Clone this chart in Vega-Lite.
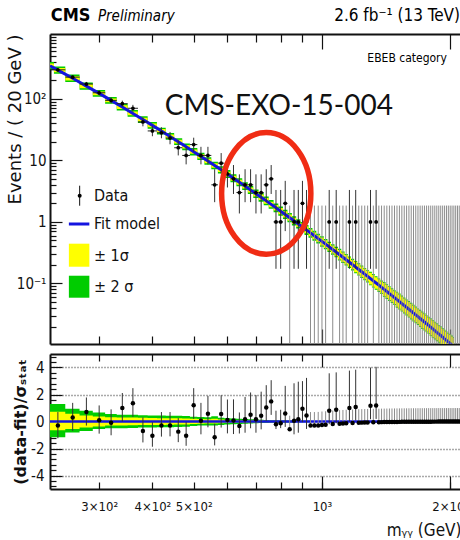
{
  "$schema": "https://vega.github.io/schema/vega-lite/v6.json",
  "padding": {"left": 5, "top": 6, "right": 0, "bottom": 0},
  "spacing": 8,
  "config": {
    "view": {"stroke": null},
    "font": "Liberation Sans Narrow, DejaVu Sans Condensed, Liberation Sans, sans-serif",
    "axis": {"zindex": 1, "grid": false, "domainColor": "#111", "domainWidth": 2, "tickColor": "#111", "tickWidth": 1.2, "labelColor": "#111", "titleColor": "#111", "labelFont": "Liberation Sans Narrow, DejaVu Sans Condensed, Liberation Sans, sans-serif", "titleFont": "Liberation Sans Narrow, DejaVu Sans Condensed, Liberation Sans, sans-serif", "labelFlush": false, "labelOverlap": false, "titleFontWeight": "normal"}
  },
  "datasets": {
    "one": [{}],
    "fit": [
      {"m":230,"f":343,"y1l":316.4,"y1h":371.8,"y2l":298.8,"y2h":393.8},
      {"m":240,"f":291.9,"y1l":269.3,"y1h":316.4,"y2l":254.3,"y2h":335.1},
      {"m":260,"f":214.6,"y1l":198,"y1h":232.6,"y2l":186.9,"y2h":246.4},
      {"m":280,"f":160.5,"y1l":148.1,"y1h":174,"y2l":139.8,"y2h":184.3},
      {"m":300,"f":122,"y1l":113.8,"y1h":130.8,"y2l":107.5,"y2h":138.5},
      {"m":320,"f":94,"y1l":87.7,"y1h":100.8,"y2l":82.8,"y2h":106.7},
      {"m":340,"f":73.2,"y1l":68.3,"y1h":78.5,"y2l":64.5,"y2h":83.1},
      {"m":360,"f":57.7,"y1l":53.8,"y1h":61.9,"y2l":50.8,"y2h":65.5},
      {"m":380,"f":45.9,"y1l":42.8,"y1h":49.2,"y2l":40.4,"y2h":52.1},
      {"m":400,"f":36.9,"y1l":34.4,"y1h":39.6,"y2l":32.5,"y2h":41.9},
      {"m":420,"f":29.9,"y1l":27.9,"y1h":32.1,"y2l":26.3,"y2h":33.9},
      {"m":440,"f":24.4,"y1l":22.8,"y1h":26.2,"y2l":21.5,"y2h":27.7},
      {"m":460,"f":20.05,"y1l":18.7,"y1h":21.5,"y2l":17.7,"y2h":22.8},
      {"m":480,"f":16.6,"y1l":15.5,"y1h":17.8,"y2l":14.6,"y2h":18.8},
      {"m":500,"f":13.8,"y1l":12.73,"y1h":14.96,"y2l":12.02,"y2h":15.84},
      {"m":520,"f":11.57,"y1l":10.67,"y1h":12.54,"y2l":10.08,"y2h":13.28},
      {"m":540,"f":9.74,"y1l":8.99,"y1h":10.56,"y2l":8.48,"y2h":11.18},
      {"m":560,"f":8.24,"y1l":7.6,"y1h":8.93,"y2l":7.18,"y2h":9.46},
      {"m":580,"f":7,"y1l":6.46,"y1h":7.59,"y2l":6.1,"y2h":8.04},
      {"m":600,"f":5.98,"y1l":5.46,"y1h":6.55,"y2l":5.15,"y2h":6.94},
      {"m":620,"f":5.12,"y1l":4.67,"y1h":5.61,"y2l":4.41,"y2h":5.94},
      {"m":640,"f":4.41,"y1l":4.02,"y1h":4.83,"y2l":3.8,"y2h":5.12},
      {"m":660,"f":3.81,"y1l":3.48,"y1h":4.18,"y2l":3.28,"y2h":4.42},
      {"m":680,"f":3.3,"y1l":3.01,"y1h":3.62,"y2l":2.84,"y2h":3.83},
      {"m":700,"f":2.87,"y1l":2.588,"y1h":3.183,"y2l":2.443,"y2h":3.372},
      {"m":720,"f":2.505,"y1l":2.259,"y1h":2.778,"y2l":2.132,"y2h":2.943},
      {"m":740,"f":2.193,"y1l":1.977,"y1h":2.432,"y2l":1.866,"y2h":2.577},
      {"m":760,"f":1.923,"y1l":1.734,"y1h":2.133,"y2l":1.637,"y2h":2.26},
      {"m":780,"f":1.692,"y1l":1.526,"y1h":1.876,"y2l":1.44,"y2h":1.988},
      {"m":800,"f":1.493,"y1l":1.331,"y1h":1.675,"y2l":1.256,"y2h":1.775},
      {"m":820,"f":1.321,"y1l":1.177,"y1h":1.482,"y2l":1.111,"y2h":1.571},
      {"m":840,"f":1.17,"y1l":1.043,"y1h":1.313,"y2l":0.984,"y2h":1.391},
      {"m":860,"f":1.04,"y1l":0.927,"y1h":1.167,"y2l":0.875,"y2h":1.237},
      {"m":880,"f":0.926,"y1l":0.825,"y1h":1.039,"y2l":0.779,"y2h":1.101},
      {"m":900,"f":0.827,"y1l":0.729,"y1h":0.939,"y2l":0.688,"y2h":0.994},
      {"m":920,"f":0.739,"y1l":0.651,"y1h":0.839,"y2l":0.615,"y2h":0.888},
      {"m":940,"f":0.663,"y1l":0.584,"y1h":0.753,"y2l":0.552,"y2h":0.797},
      {"m":960,"f":0.595,"y1l":0.524,"y1h":0.675,"y2l":0.495,"y2h":0.715},
      {"m":980,"f":0.535,"y1l":0.471,"y1h":0.607,"y2l":0.445,"y2h":0.643},
      {"m":1000,"f":0.482,"y1l":0.415,"y1h":0.56,"y2l":0.396,"y2h":0.586},
      {"m":1020,"f":0.435,"y1l":0.375,"y1h":0.505,"y2l":0.358,"y2h":0.529},
      {"m":1040,"f":0.393,"y1l":0.339,"y1h":0.456,"y2l":0.323,"y2h":0.478},
      {"m":1060,"f":0.356,"y1l":0.307,"y1h":0.413,"y2l":0.293,"y2h":0.433},
      {"m":1080,"f":0.323,"y1l":0.278,"y1h":0.375,"y2l":0.266,"y2h":0.393},
      {"m":1100,"f":0.293,"y1l":0.246,"y1h":0.348,"y2l":0.235,"y2h":0.365},
      {"m":1120,"f":0.2666,"y1l":0.224,"y1h":0.317,"y2l":0.214,"y2h":0.332},
      {"m":1140,"f":0.2427,"y1l":0.204,"y1h":0.289,"y2l":0.195,"y2h":0.302},
      {"m":1160,"f":0.2212,"y1l":0.186,"y1h":0.263,"y2l":0.178,"y2h":0.275},
      {"m":1180,"f":0.2019,"y1l":0.17,"y1h":0.24,"y2l":0.162,"y2h":0.251},
      {"m":1200,"f":0.1846,"y1l":0.1518,"y1h":0.2245,"y2l":0.1466,"y2h":0.2324},
      {"m":1220,"f":0.1689,"y1l":0.1389,"y1h":0.2054,"y2l":0.1342,"y2h":0.2126},
      {"m":1240,"f":0.1549,"y1l":0.1274,"y1h":0.1884,"y2l":0.123,"y2h":0.195},
      {"m":1260,"f":0.142,"y1l":0.1168,"y1h":0.1727,"y2l":0.1128,"y2h":0.1788},
      {"m":1280,"f":0.1305,"y1l":0.1073,"y1h":0.1587,"y2l":0.1037,"y2h":0.1643},
      {"m":1300,"f":0.1201,"y1l":0.0965,"y1h":0.1495,"y2l":0.0932,"y2h":0.1547},
      {"m":1320,"f":0.1104,"y1l":0.0887,"y1h":0.1374,"y2l":0.0857,"y2h":0.1422},
      {"m":1340,"f":0.1017,"y1l":0.0817,"y1h":0.1266,"y2l":0.079,"y2h":0.131},
      {"m":1360,"f":0.0938,"y1l":0.0753,"y1h":0.1168,"y2l":0.0728,"y2h":0.1208},
      {"m":1380,"f":0.0866,"y1l":0.0696,"y1h":0.1078,"y2l":0.0672,"y2h":0.1115},
      {"m":1400,"f":0.08,"y1l":0.0628,"y1h":0.1019,"y2l":0.0607,"y2h":0.1054},
      {"m":1420,"f":0.074,"y1l":0.0581,"y1h":0.0943,"y2l":0.0561,"y2h":0.0975},
      {"m":1440,"f":0.0685,"y1l":0.0538,"y1h":0.0873,"y2l":0.052,"y2h":0.0903},
      {"m":1460,"f":0.0634,"y1l":0.0498,"y1h":0.0808,"y2l":0.0481,"y2h":0.0836},
      {"m":1480,"f":0.0588,"y1l":0.0462,"y1h":0.0749,"y2l":0.0446,"y2h":0.0775},
      {"m":1500,"f":0.0546,"y1l":0.0419,"y1h":0.0711,"y2l":0.0405,"y2h":0.0737},
      {"m":1520,"f":0.0508,"y1l":0.039,"y1h":0.0662,"y2l":0.0377,"y2h":0.0685},
      {"m":1540,"f":0.0472,"y1l":0.0362,"y1h":0.0615,"y2l":0.035,"y2h":0.0637},
      {"m":1560,"f":0.0439,"y1l":0.0337,"y1h":0.0572,"y2l":0.0325,"y2h":0.0592},
      {"m":1580,"f":0.0408,"y1l":0.0313,"y1h":0.0532,"y2l":0.0302,"y2h":0.055},
      {"m":1600,"f":0.0381,"y1l":0.0289,"y1h":0.0502,"y2l":0.0279,"y2h":0.052},
      {"m":1620,"f":0.0355,"y1l":0.0269,"y1h":0.0468,"y2l":0.026,"y2h":0.0485},
      {"m":1640,"f":0.0331,"y1l":0.0251,"y1h":0.0436,"y2l":0.0242,"y2h":0.0452},
      {"m":1660,"f":0.0309,"y1l":0.0234,"y1h":0.0407,"y2l":0.0226,"y2h":0.0422},
      {"m":1680,"f":0.0289,"y1l":0.0219,"y1h":0.0381,"y2l":0.0212,"y2h":0.0394},
      {"m":1700,"f":0.027,"y1l":0.0202,"y1h":0.036,"y2l":0.0196,"y2h":0.0373},
      {"m":1720,"f":0.0253,"y1l":0.019,"y1h":0.0338,"y2l":0.0183,"y2h":0.0349},
      {"m":1740,"f":0.0237,"y1l":0.0178,"y1h":0.0316,"y2l":0.0172,"y2h":0.0327},
      {"m":1760,"f":0.0222,"y1l":0.0166,"y1h":0.0296,"y2l":0.0161,"y2h":0.0306},
      {"m":1780,"f":0.0208,"y1l":0.0156,"y1h":0.0277,"y2l":0.0151,"y2h":0.0287},
      {"m":1800,"f":0.0195,"y1l":0.01446,"y1h":0.0263,"y2l":0.01397,"y2h":0.0272},
      {"m":1820,"f":0.0183,"y1l":0.01357,"y1h":0.0247,"y2l":0.01311,"y2h":0.0255},
      {"m":1840,"f":0.0172,"y1l":0.01275,"y1h":0.0232,"y2l":0.01232,"y2h":0.024},
      {"m":1860,"f":0.0161,"y1l":0.01193,"y1h":0.0217,"y2l":0.01153,"y2h":0.0225},
      {"m":1880,"f":0.0152,"y1l":0.01127,"y1h":0.0205,"y2l":0.01089,"y2h":0.0212},
      {"m":1900,"f":0.0143,"y1l":0.01048,"y1h":0.01952,"y2l":0.01012,"y2h":0.0202},
      {"m":1920,"f":0.0134,"y1l":0.00982,"y1h":0.01829,"y2l":0.00948,"y2h":0.01893},
      {"m":1940,"f":0.0126,"y1l":0.00923,"y1h":0.0172,"y2l":0.00892,"y2h":0.0178},
      {"m":1960,"f":0.0119,"y1l":0.00872,"y1h":0.01624,"y2l":0.00842,"y2h":0.01681},
      {"m":1980,"f":0.0112,"y1l":0.00821,"y1h":0.01529,"y2l":0.00793,"y2h":0.01583},
      {"m":2000,"f":0.0106,"y1l":0.00768,"y1h":0.01463,"y2l":0.00742,"y2h":0.01515},
      {"m":2020,"f":0.00998,"y1l":0.00723,"y1h":0.01377,"y2l":0.00698,"y2h":0.01426},
      {"m":2040,"f":0.00943,"y1l":0.00683,"y1h":0.01301,"y2l":0.0066,"y2h":0.01348}
    ],
    "rb": [
      {"m":230,"yl":-0.65,"yh":0.72,"gl":-1.17,"gh":1.29},
      {"m":240,"yl":-0.65,"yh":0.72,"gl":-1.17,"gh":1.29},
      {"m":260,"yl":-0.55,"yh":0.57,"gl":-0.82,"gh":0.95},
      {"m":280,"yl":-0.45,"yh":0.45,"gl":-0.7,"gh":0.8},
      {"m":300,"yl":-0.37,"yh":0.37,"gl":-0.55,"gh":0.67},
      {"m":320,"yl":-0.3,"yh":0.32,"gl":-0.5,"gh":0.55},
      {"m":340,"yl":-0.3,"yh":0.3,"gl":-0.5,"gh":0.5},
      {"m":360,"yl":-0.28,"yh":0.3,"gl":-0.48,"gh":0.5},
      {"m":380,"yl":-0.26,"yh":0.28,"gl":-0.45,"gh":0.47},
      {"m":400,"yl":-0.25,"yh":0.26,"gl":-0.45,"gh":0.45},
      {"m":420,"yl":-0.25,"yh":0.25,"gl":-0.43,"gh":0.45},
      {"m":440,"yl":-0.24,"yh":0.25,"gl":-0.42,"gh":0.43},
      {"m":460,"yl":-0.23,"yh":0.24,"gl":-0.4,"gh":0.42},
      {"m":480,"yl":-0.22,"yh":0.22,"gl":-0.38,"gh":0.4},
      {"m":500,"yl":-0.18,"yh":0.2,"gl":-0.33,"gh":0.36},
      {"m":520,"yl":-0.16,"yh":0.18,"gl":-0.3,"gh":0.33},
      {"m":540,"yl":-0.15,"yh":0.17,"gl":-0.3,"gh":0.32},
      {"m":560,"yl":-0.15,"yh":0.2,"gl":-0.3,"gh":0.38},
      {"m":580,"yl":-0.13,"yh":0.15,"gl":-0.25,"gh":0.28},
      {"m":600,"yl":-0.12,"yh":0.13,"gl":-0.22,"gh":0.24},
      {"m":620,"yl":-0.11,"yh":0.12,"gl":-0.2,"gh":0.22},
      {"m":640,"yl":-0.1,"yh":0.11,"gl":-0.18,"gh":0.2},
      {"m":660,"yl":-0.09,"yh":0.1,"gl":-0.16,"gh":0.18},
      {"m":680,"yl":-0.08,"yh":0.09,"gl":-0.15,"gh":0.16},
      {"m":700,"yl":-0.07,"yh":0.08,"gl":-0.13,"gh":0.14},
      {"m":720,"yl":-0.06,"yh":0.07,"gl":-0.12,"gh":0.13},
      {"m":740,"yl":-0.06,"yh":0.06,"gl":-0.11,"gh":0.12},
      {"m":760,"yl":-0.05,"yh":0.05,"gl":-0.1,"gh":0.1},
      {"m":780,"yl":-0.05,"yh":0.05,"gl":-0.09,"gh":0.09},
      {"m":800,"yl":-0.04,"yh":0.04,"gl":-0.08,"gh":0.08},
      {"m":840,"yl":-0.035,"yh":0.035,"gl":-0.07,"gh":0.07},
      {"m":880,"yl":-0.03,"yh":0.03,"gl":-0.06,"gh":0.06},
      {"m":920,"yl":-0.025,"yh":0.025,"gl":-0.05,"gh":0.05},
      {"m":960,"yl":-0.02,"yh":0.02,"gl":-0.04,"gh":0.04},
      {"m":1000,"yl":-0.02,"yh":0.02,"gl":-0.04,"gh":0.04}
    ],
    "bins": [
      {"m":240,"a":230,"b":250,"n":295,"lo":277.9,"hi":313.3,"r":-0.3,"rl":-1.24,"rh":0.7},
      {"m":260,"a":250,"b":270,"n":224,"lo":209.1,"hi":240.1,"r":0.3,"rl":-0.7,"rh":1.38},
      {"m":280,"a":270,"b":290,"n":173,"lo":159.9,"hi":187.3,"r":0.7,"rl":-0.3,"rh":1.78},
      {"m":300,"a":290,"b":310,"n":125,"lo":113.9,"hi":137.3,"r":0.1,"rl":-0.9,"rh":1.19},
      {"m":320,"a":310,"b":330,"n":94,"lo":84.3,"hi":104.8,"r":-0.1,"rl":-1.02,"rh":0.9},
      {"m":340,"a":330,"b":350,"n":83,"lo":73.9,"hi":93.2,"r":1.0,"rl":0.0,"rh":2.11},
      {"m":360,"a":350,"b":370,"n":70,"lo":61.7,"hi":79.5,"r":1.35,"rl":0.35,"rh":2.47},
      {"m":380,"a":370,"b":390,"n":42,"lo":35.6,"hi":49.6,"r":-0.7,"rl":-1.55,"rh":0.3},
      {"m":400,"a":390,"b":410,"n":30,"lo":24.6,"hi":36.6,"r":-1.05,"rl":-1.87,"rh":-0.05},
      {"m":420,"a":410,"b":430,"n":28,"lo":22.8,"hi":34.4,"r":-0.3,"rl":-1.12,"rh":0.7},
      {"m":440,"a":430,"b":450,"n":23,"lo":18.2,"hi":28.9,"r":-0.3,"rl":-1.1,"rh":0.7},
      {"m":460,"a":450,"b":470,"n":16,"lo":12.0,"hi":21.1,"r":-0.75,"rl":-1.53,"rh":0.25},
      {"m":480,"a":470,"b":490,"n":12,"lo":8.59,"hi":16.56,"r":-1.05,"rl":-1.8,"rh":-0.05},
      {"m":500,"a":490,"b":510,"n":18,"lo":13.8,"hi":23.3,"r":1.2,"rl":0.2,"rh":2.47},
      {"m":520,"a":510,"b":530,"n":12,"lo":8.59,"hi":16.56,"r":0.05,"rl":-0.95,"rh":1.38},
      {"m":540,"a":530,"b":550,"n":12,"lo":8.59,"hi":16.56,"r":0.57,"rl":-0.43,"rh":1.9},
      {"m":560,"a":550,"b":570,"n":4,"lo":2.09,"hi":7.16,"r":-1.17,"rl":-1.77,"rh":-0.17},
      {"m":580,"a":570,"b":590,"n":9,"lo":6.06,"hi":13.11,"r":0.55,"rl":-0.45,"rh":1.95},
      {"m":600,"a":590,"b":610,"n":6,"lo":3.62,"hi":9.58,"r":0.12,"rl":-0.88,"rh":1.63},
      {"m":620,"a":610,"b":630,"n":5,"lo":2.84,"hi":8.38,"r":0.07,"rl":-0.93,"rh":1.64},
      {"m":640,"a":630,"b":650,"n":3,"lo":1.37,"hi":5.92,"r":-0.33,"rl":-0.89,"rh":0.67},
      {"m":660,"a":650,"b":670,"n":4,"lo":2.09,"hi":7.16,"r":0.17,"rl":-0.83,"rh":1.82},
      {"m":680,"a":670,"b":690,"n":4,"lo":2.09,"hi":7.16,"r":0.5,"rl":-0.5,"rh":2.15},
      {"m":700,"a":690,"b":710,"n":3,"lo":1.37,"hi":5.92,"r":0.17,"rl":-0.83,"rh":1.96},
      {"m":720,"a":710,"b":730,"n":3,"lo":1.37,"hi":5.92,"r":0.42,"rl":-0.58,"rh":2.21},
      {"m":740,"a":730,"b":750,"n":4,"lo":2.09,"hi":7.16,"r":1.04,"rl":0.04,"rh":2.69},
      {"m":760,"a":750,"b":770,"n":5,"lo":2.84,"hi":8.38,"r":1.49,"rl":0.49,"rh":3.06},
      {"m":780,"a":770,"b":790,"n":1,"lo":0.173,"hi":3.3,"r":-0.2,"rl":-0.56,"rh":0.8},
      {"m":800,"a":790,"b":810,"n":1,"lo":0.173,"hi":3.3,"r":-0.13,"rl":-0.49,"rh":0.87},
      {"m":820,"a":810,"b":830,"n":2,"lo":0.708,"hi":4.64,"r":0.6,"rl":-0.4,"rh":2.64},
      {"m":840,"a":830,"b":850,"n":0,"lo":0.001,"hi":1.841,"r":-0.57,"rl":-0.57,"rh":0.43},
      {"m":860,"a":850,"b":870,"n":1,"lo":0.173,"hi":3.3,"r":0.05,"rl":-0.95,"rh":2.83},
      {"m":880,"a":870,"b":890,"n":1,"lo":0.173,"hi":3.3,"r":0.17,"rl":-0.83,"rh":2.95},
      {"m":900,"a":890,"b":910,"n":2,"lo":0.708,"hi":4.64,"r":0.95,"rl":-0.05,"rh":2.99},
      {"m":920,"a":910,"b":930,"n":1,"lo":0.173,"hi":3.3,"r":0.45,"rl":-0.55,"rh":3.23},
      {"m":940,"a":930,"b":950,"n":0,"lo":0.001,"hi":1.841,"r":-0.3,"rl":-0.3,"rh":0.7},
      {"m":960,"a":950,"b":970,"n":0,"lo":0.001,"hi":1.841,"r":-0.3,"rl":-0.3,"rh":0.7},
      {"m":980,"a":970,"b":990,"n":0,"lo":0.001,"hi":1.841,"r":-0.29,"rl":-0.29,"rh":0.71},
      {"m":1000,"a":990,"b":1010,"n":0,"lo":0.001,"hi":1.841,"r":-0.26,"rl":-0.26,"rh":0.74},
      {"m":1020,"a":1010,"b":1030,"n":0,"lo":0.001,"hi":1.841,"r":-0.24,"rl":-0.24,"rh":0.76},
      {"m":1040,"a":1030,"b":1050,"n":1,"lo":0.173,"hi":3.3,"r":0.8,"rl":-0.2,"rh":3.57},
      {"m":1060,"a":1050,"b":1070,"n":0,"lo":0.001,"hi":1.841,"r":-0.19,"rl":-0.19,"rh":0.81},
      {"m":1080,"a":1070,"b":1090,"n":1,"lo":0.173,"hi":3.3,"r":0.87,"rl":-0.13,"rh":3.64},
      {"m":1100,"a":1090,"b":1110,"n":0,"lo":0.001,"hi":1.841,"r":-0.16,"rl":-0.16,"rh":0.84},
      {"m":1120,"a":1110,"b":1130,"n":0,"lo":0.001,"hi":1.841,"r":-0.145,"rl":-0.145,"rh":0.855},
      {"m":1140,"a":1130,"b":1150,"n":0,"lo":0.001,"hi":1.841,"r":-0.13,"rl":-0.13,"rh":0.87},
      {"m":1160,"a":1150,"b":1170,"n":1,"lo":0.173,"hi":3.3,"r":1.0,"rl":0.0,"rh":3.77},
      {"m":1180,"a":1170,"b":1190,"n":0,"lo":0.001,"hi":1.841,"r":-0.11,"rl":-0.11,"rh":0.89},
      {"m":1200,"a":1190,"b":1210,"n":1,"lo":0.173,"hi":3.3,"r":1.07,"rl":0.07,"rh":3.84},
      {"m":1220,"a":1210,"b":1230,"n":0,"lo":0.001,"hi":1.841,"r":-0.09,"rl":-0.09,"rh":0.91},
      {"m":1240,"a":1230,"b":1250,"n":0,"lo":0.001,"hi":1.841,"r":-0.084,"rl":-0.084,"rh":0.916},
      {"m":1260,"a":1250,"b":1270,"n":0,"lo":0.001,"hi":1.841,"r":-0.077,"rl":-0.077,"rh":0.923},
      {"m":1280,"a":1270,"b":1290,"n":0,"lo":0.001,"hi":1.841,"r":-0.071,"rl":-0.071,"rh":0.929},
      {"m":1300,"a":1290,"b":1310,"n":1,"lo":0.173,"hi":3.3,"r":1.17,"rl":0.17,"rh":4.0},
      {"m":1320,"a":1310,"b":1330,"n":0,"lo":0.001,"hi":1.841,"r":-0.06,"rl":-0.06,"rh":0.94},
      {"m":1340,"a":1330,"b":1350,"n":1,"lo":0.173,"hi":3.3,"r":1.19,"rl":0.19,"rh":4.05},
      {"m":1360,"a":1350,"b":1370,"n":0,"lo":0.001,"hi":1.841,"r":-0.051,"rl":-0.051,"rh":0.949},
      {"m":1380,"a":1370,"b":1390,"n":0,"lo":0.001,"hi":1.841,"r":-0.047,"rl":-0.047,"rh":0.953},
      {"m":1400,"a":1390,"b":1410,"n":0,"lo":0.001,"hi":1.841,"r":-0.043,"rl":-0.043,"rh":0.957},
      {"m":1420,"a":1410,"b":1430,"n":0,"lo":0.001,"hi":1.841,"r":-0.04,"rl":-0.04,"rh":0.96},
      {"m":1440,"a":1430,"b":1450,"n":0,"lo":0.001,"hi":1.841,"r":-0.037,"rl":-0.037,"rh":0.963},
      {"m":1460,"a":1450,"b":1470,"n":0,"lo":0.001,"hi":1.841,"r":-0.034,"rl":-0.034,"rh":0.966},
      {"m":1480,"a":1470,"b":1490,"n":0,"lo":0.001,"hi":1.841,"r":-0.032,"rl":-0.032,"rh":0.968},
      {"m":1500,"a":1490,"b":1510,"n":0,"lo":0.001,"hi":1.841,"r":-0.03,"rl":-0.03,"rh":0.97},
      {"m":1520,"a":1510,"b":1530,"n":0,"lo":0.001,"hi":1.841,"r":-0.028,"rl":-0.028,"rh":0.972},
      {"m":1540,"a":1530,"b":1550,"n":0,"lo":0.001,"hi":1.841,"r":-0.026,"rl":-0.026,"rh":0.974},
      {"m":1560,"a":1550,"b":1570,"n":0,"lo":0.001,"hi":1.841,"r":-0.024,"rl":-0.024,"rh":0.976},
      {"m":1580,"a":1570,"b":1590,"n":0,"lo":0.001,"hi":1.841,"r":-0.022,"rl":-0.022,"rh":0.978},
      {"m":1600,"a":1590,"b":1610,"n":0,"lo":0.001,"hi":1.841,"r":-0.021,"rl":-0.021,"rh":0.979},
      {"m":1620,"a":1610,"b":1630,"n":0,"lo":0.001,"hi":1.841,"r":-0.019,"rl":-0.019,"rh":0.981},
      {"m":1640,"a":1630,"b":1650,"n":0,"lo":0.001,"hi":1.841,"r":-0.018,"rl":-0.018,"rh":0.982},
      {"m":1660,"a":1650,"b":1670,"n":0,"lo":0.001,"hi":1.841,"r":-0.017,"rl":-0.017,"rh":0.983},
      {"m":1680,"a":1670,"b":1690,"n":0,"lo":0.001,"hi":1.841,"r":-0.016,"rl":-0.016,"rh":0.984},
      {"m":1700,"a":1690,"b":1710,"n":0,"lo":0.001,"hi":1.841,"r":-0.015,"rl":-0.015,"rh":0.985},
      {"m":1720,"a":1710,"b":1730,"n":0,"lo":0.001,"hi":1.841,"r":-0.014,"rl":-0.014,"rh":0.986},
      {"m":1740,"a":1730,"b":1750,"n":0,"lo":0.001,"hi":1.841,"r":-0.013,"rl":-0.013,"rh":0.987},
      {"m":1760,"a":1750,"b":1770,"n":0,"lo":0.001,"hi":1.841,"r":-0.012,"rl":-0.012,"rh":0.988},
      {"m":1780,"a":1770,"b":1790,"n":0,"lo":0.001,"hi":1.841,"r":-0.011,"rl":-0.011,"rh":0.989},
      {"m":1800,"a":1790,"b":1810,"n":0,"lo":0.001,"hi":1.841,"r":-0.011,"rl":-0.011,"rh":0.989},
      {"m":1820,"a":1810,"b":1830,"n":0,"lo":0.001,"hi":1.841,"r":-0.01,"rl":-0.01,"rh":0.99},
      {"m":1840,"a":1830,"b":1850,"n":0,"lo":0.001,"hi":1.841,"r":-0.009,"rl":-0.009,"rh":0.991},
      {"m":1860,"a":1850,"b":1870,"n":0,"lo":0.001,"hi":1.841,"r":-0.009,"rl":-0.009,"rh":0.991},
      {"m":1880,"a":1870,"b":1890,"n":0,"lo":0.001,"hi":1.841,"r":-0.008,"rl":-0.008,"rh":0.992},
      {"m":1900,"a":1890,"b":1910,"n":0,"lo":0.001,"hi":1.841,"r":-0.008,"rl":-0.008,"rh":0.992},
      {"m":1920,"a":1910,"b":1930,"n":0,"lo":0.001,"hi":1.841,"r":-0.007,"rl":-0.007,"rh":0.993},
      {"m":1940,"a":1930,"b":1950,"n":0,"lo":0.001,"hi":1.841,"r":-0.007,"rl":-0.007,"rh":0.993},
      {"m":1960,"a":1950,"b":1970,"n":0,"lo":0.001,"hi":1.841,"r":-0.006,"rl":-0.006,"rh":0.994},
      {"m":1980,"a":1970,"b":1990,"n":0,"lo":0.001,"hi":1.841,"r":-0.006,"rl":-0.006,"rh":0.994},
      {"m":2000,"a":1990,"b":2010,"n":0,"lo":0.001,"hi":1.841,"r":-0.006,"rl":-0.006,"rh":0.994},
      {"m":2020,"a":2010,"b":2030,"n":0,"lo":0.001,"hi":1.841,"r":-0.005,"rl":-0.005,"rh":0.995},
      {"m":2040,"a":2030,"b":2050,"n":0,"lo":0.001,"hi":1.841,"r":-0.005,"rl":-0.005,"rh":0.995},
      {"m":2060,"a":2050,"b":2070,"n":0,"lo":0.001,"hi":1.841,"r":-0.005,"rl":-0.005,"rh":0.995},
      {"m":2080,"a":2070,"b":2090,"n":0,"lo":0.001,"hi":1.841,"r":-0.005,"rl":-0.005,"rh":0.995},
      {"m":2100,"a":2090,"b":2110,"n":0,"lo":0.001,"hi":1.841,"r":-0.004,"rl":-0.004,"rh":0.996}
    ]
  },
  "vconcat": [
    {
      "width": 411,
      "height": 310,
      "resolve": {"axis": {"x": "independent", "y": "independent"}},
      "layer": [
        {
          "data": {"name": "fit"},
          "mark": {"type": "area", "interpolate": "step", "color": "#00cc00", "clip": true},
          "encoding": {
            "x": {"field": "m", "type": "quantitative", "scale": {"type": "log", "domain": [230, 2120], "nice": false},
                  "axis": {"orient": "bottom", "values": [300,400,500,600,700,800,900], "tickSize": -8, "labels": false, "domain": true, "title": null}},
            "y": {"field": "y2l", "type": "quantitative", "scale": {"type": "log", "domain": [0.0104, 1125], "nice": false},
                  "axis": {"orient": "left", "values": [0.1,1,10,100], "tickSize": -12, "labelPadding": 16, "labelFontSize": 15,
                           "labelExpr": "datum.value==100?'10²':datum.value==10?'10':datum.value==1?'1':'10⁻¹'",
                           "title": "Events / ( 20 GeV )", "titleAnchor": "end", "titleFont": "DejaVu Sans", "titleFontSize": 18, "titleX": -26}},
            "y2": {"field": "y2h"}
          }
        },
        {
          "data": {"name": "fit"},
          "mark": {"type": "area", "interpolate": "step", "color": "#ffff00", "clip": true},
          "encoding": {
            "x": {"field": "m", "type": "quantitative",
                  "axis": {"orient": "top", "values": [300,400,500,600,700,800,900], "tickSize": -8, "labels": false, "domain": true, "title": null}},
            "y": {"field": "y1l", "type": "quantitative",
                  "axis": {"orient": "left", "values": [0.02,0.03,0.04,0.05,0.06,0.07,0.08,0.09,0.2,0.3,0.4,0.5,0.6,0.7,0.8,0.9,2,3,4,5,6,7,8,9,20,30,40,50,60,70,80,90,200,300,400,500,600,700,800,900,1000], "tickSize": -6, "labels": false, "domain": false, "title": null}},
            "y2": {"field": "y1h"}
          }
        },
        {
          "data": {"name": "fit"},
          "mark": {"type": "line", "color": "#1414e0", "strokeWidth": 3, "clip": true},
          "encoding": {
            "x": {"field": "m", "type": "quantitative",
                  "axis": {"orient": "bottom", "values": [1000,2000], "tickSize": -15, "labels": false, "domain": false, "title": null}},
            "y": {"field": "f", "type": "quantitative", "axis": null}
          }
        },
        {
          "data": {"name": "bins"},
          "mark": {"type": "rule", "strokeWidth": 1, "clip": true},
          "encoding": {
            "x": {"field": "m", "type": "quantitative",
                  "axis": {"orient": "top", "values": [1000,2000], "tickSize": -15, "labels": false, "domain": false, "title": null}},
            "y": {"field": "lo", "type": "quantitative", "axis": null},
            "y2": {"field": "hi"},
            "color": {"condition": {"test": "datum.n == 0", "value": "#8c8c8c"}, "value": "#333333"}
          }
        },
        {
          "data": {"name": "bins"},
          "transform": [{"filter": "datum.n > 0"}],
          "mark": {"type": "rule", "color": "#222", "strokeWidth": 1, "clip": true},
          "encoding": {
            "x": {"field": "a", "type": "quantitative", "axis": null},
            "x2": {"field": "b"},
            "y": {"field": "n", "type": "quantitative", "axis": null}
          }
        },
        {
          "data": {"name": "bins"},
          "transform": [{"filter": "datum.n > 0"}],
          "mark": {"type": "circle", "color": "#000", "size": 14, "opacity": 1, "clip": true},
          "encoding": {
            "x": {"field": "m", "type": "quantitative", "axis": null},
            "y": {"field": "n", "type": "quantitative", "axis": null}
          }
        },
        {
          "data": {"name": "one"},
          "mark": {"type": "rule", "color": "#111", "strokeWidth": 1},
          "encoding": {
            "x": {"datum": 270, "type": "quantitative", "axis": null},
            "y": {"datum": 3.87, "type": "quantitative", "axis": null},
            "y2": {"datum": 1.83}
          }
        },
        {
          "data": {"name": "one"},
          "mark": {"type": "circle", "color": "#000", "size": 16, "opacity": 1},
          "encoding": {
            "x": {"datum": 270, "type": "quantitative", "axis": null},
            "y": {"datum": 2.66, "type": "quantitative", "axis": null}
          }
        },
        {
          "data": {"name": "one"},
          "mark": {"type": "rule", "color": "#1414e0", "strokeWidth": 3},
          "encoding": {
            "x": {"datum": 254.7, "type": "quantitative", "axis": null},
            "x2": {"datum": 284.5},
            "y": {"datum": 0.924, "type": "quantitative", "axis": null}
          }
        },
        {
          "data": {"name": "one"},
          "mark": {"type": "rect", "color": "#ffff00"},
          "encoding": {
            "x": {"datum": 254.7, "type": "quantitative", "axis": null},
            "x2": {"datum": 284.5},
            "y": {"datum": 0.4426, "type": "quantitative", "axis": null},
            "y2": {"datum": 0.187}
          }
        },
        {
          "data": {"name": "one"},
          "mark": {"type": "rect", "color": "#00cc00"},
          "encoding": {
            "x": {"datum": 254.7, "type": "quantitative", "axis": null},
            "x2": {"datum": 284.5},
            "y": {"datum": 0.1336, "type": "quantitative", "axis": null},
            "y2": {"datum": 0.0587}
          }
        },
        {
          "data": {"name": "one"},
          "mark": {"type": "text", "text": "Data", "align": "left", "baseline": "middle", "fontSize": 16, "color": "#111"},
          "encoding": {"x": {"datum": 291.6, "type": "quantitative", "axis": null}, "y": {"datum": 2.66, "type": "quantitative", "axis": null}}
        },
        {
          "data": {"name": "one"},
          "mark": {"type": "text", "text": "Fit model", "align": "left", "baseline": "middle", "fontSize": 16, "color": "#111"},
          "encoding": {"x": {"datum": 291.6, "type": "quantitative", "axis": null}, "y": {"datum": 0.924, "type": "quantitative", "axis": null}}
        },
        {
          "data": {"name": "one"},
          "mark": {"type": "text", "text": "± 1σ", "align": "left", "baseline": "middle", "fontSize": 16, "color": "#111"},
          "encoding": {"x": {"datum": 291.6, "type": "quantitative", "axis": null}, "y": {"datum": 0.275, "type": "quantitative", "axis": null}}
        },
        {
          "data": {"name": "one"},
          "mark": {"type": "text", "text": "± 2 σ", "align": "left", "baseline": "middle", "fontSize": 16, "color": "#111"},
          "encoding": {"x": {"datum": 291.6, "type": "quantitative", "axis": null}, "y": {"datum": 0.0863, "type": "quantitative", "axis": null}}
        },
        {
          "data": {"name": "one"},
          "mark": {"type": "text", "text": "CMS", "align": "left", "baseline": "alphabetic", "fontSize": 18, "fontWeight": "bold", "color": "#000"},
          "encoding": {"x": {"datum": 231, "type": "quantitative", "axis": null}, "y": {"datum": 1849, "type": "quantitative", "axis": null}}
        },
        {
          "data": {"name": "one"},
          "mark": {"type": "text", "text": "Preliminary", "align": "left", "baseline": "alphabetic", "fontSize": 15, "fontStyle": "italic", "color": "#000"},
          "encoding": {"x": {"datum": 298, "type": "quantitative", "axis": null}, "y": {"datum": 1849, "type": "quantitative", "axis": null}}
        },
        {
          "data": {"name": "one"},
          "mark": {"type": "text", "text": "2.6 fb⁻¹ (13 TeV)", "align": "right", "baseline": "alphabetic", "fontSize": 17, "color": "#000"},
          "encoding": {"x": {"datum": 2109, "type": "quantitative", "axis": null}, "y": {"datum": 1849, "type": "quantitative", "axis": null}}
        },
        {
          "data": {"name": "one"},
          "mark": {"type": "text", "text": "EBEB category", "align": "right", "baseline": "middle", "fontSize": 12, "color": "#000"},
          "encoding": {"x": {"datum": 1965, "type": "quantitative", "axis": null}, "y": {"datum": 464, "type": "quantitative", "axis": null}}
        },
        {
          "data": {"name": "one"},
          "mark": {"type": "text", "text": "CMS-EXO-15-004", "align": "center", "baseline": "middle", "fontSize": 28, "font": "Lato", "color": "#111"},
          "encoding": {"x": {"datum": 792, "type": "quantitative", "axis": null}, "y": {"datum": 74, "type": "quantitative", "axis": null}}
        },
        {
          "data": {"name": "one"},
          "mark": {"type": "point", "shape": "M-0.734,0A0.734,1,0,1,1,0.734,0A0.734,1,0,1,1,-0.734,0Z", "size": 14785, "filled": false, "stroke": "#f02c14", "strokeWidth": 5.5, "opacity": 1},
          "encoding": {"x": {"datum": 740, "type": "quantitative", "axis": null}, "y": {"datum": 2.9, "type": "quantitative", "axis": null}}
        }
      ]
    },
    {
      "width": 411,
      "height": 135,
      "resolve": {"axis": {"x": "independent", "y": "independent"}},
      "layer": [
        {
          "data": {"name": "rb"},
          "mark": {"type": "area", "interpolate": "step", "color": "#00cc00", "clip": true},
          "encoding": {
            "x": {"field": "m", "type": "quantitative", "scale": {"type": "log", "domain": [230, 2120], "nice": false},
                  "axis": {"orient": "bottom", "values": [300,400,500,600,700,800,900,1000,2000], "tickSize": -7, "labelPadding": 18, "labelFontSize": 13,
                           "labelExpr": "datum.value==300?'3×10²':datum.value==400?'4×10²':datum.value==500?'5×10²':datum.value==1000?'10³':datum.value==2000?'2×10³':''",
                           "title": "mᵧᵧ (GeV)", "titleAnchor": "end", "titleFontSize": 17, "titlePadding": 9}},
            "y": {"field": "gl", "type": "quantitative", "scale": {"domain": [-5, 5], "nice": false, "zero": false},
                  "axis": {"orient": "left", "values": [-4,-2,0,2,4], "tickSize": -12, "labelPadding": 18, "labelFontSize": 15, "labelExpr": "''+datum.value",
                           "title": "(data-fit)/σₛₜₐₜ", "titleFont": "DejaVu Sans", "titleFontWeight": "bold", "titleFontSize": 16, "titleX": -22}},
            "y2": {"field": "gh"}
          }
        },
        {
          "data": {"name": "rb"},
          "mark": {"type": "area", "interpolate": "step", "color": "#ffff00", "clip": true},
          "encoding": {
            "x": {"field": "m", "type": "quantitative",
                  "axis": {"orient": "top", "values": [300,400,500,600,700,800,900], "tickSize": -7, "labels": false, "domain": true, "title": null}},
            "y": {"field": "yl", "type": "quantitative",
                  "axis": {"orient": "left", "values": [-4.8,-4.4,-3.6,-3.2,-2.8,-2.4,-1.6,-1.2,-0.8,-0.4,0.4,0.8,1.2,1.6,2.4,2.8,3.2,3.6,4.4,4.8], "tickSize": -6, "labels": false, "domain": false, "title": null}},
            "y2": {"field": "yh"}
          }
        },
        {
          "data": {"name": "one"},
          "mark": {"type": "rule", "color": "#1414e0", "strokeWidth": 2.5},
          "encoding": {"y": {"datum": 0, "type": "quantitative", "axis": null}}
        },
        {
          "data": {"name": "bins"},
          "mark": {"type": "rule", "strokeWidth": 1, "clip": true},
          "encoding": {
            "x": {"field": "m", "type": "quantitative",
                  "axis": {"orient": "top", "values": [1000,2000], "tickSize": -13, "labels": false, "domain": false, "title": null}},
            "y": {"field": "rl", "type": "quantitative",
                  "axis": {"orient": "left", "zindex": 0, "values": [-4,-2,2,4], "grid": true, "gridDash": [1,2], "gridColor": "#555", "gridWidth": 1.3, "ticks": false, "labels": false, "domain": false, "title": null}},
            "y2": {"field": "rh"},
            "color": {"condition": {"test": "datum.n == 0", "value": "#8c8c8c"}, "value": "#333333"}
          }
        },
        {
          "data": {"name": "bins"},
          "mark": {"type": "circle", "color": "#000", "size": 20, "opacity": 1, "clip": true},
          "encoding": {
            "x": {"field": "m", "type": "quantitative",
                  "axis": {"orient": "bottom", "values": [1000,2000], "tickSize": -13, "labels": false, "domain": false, "title": null}},
            "y": {"field": "r", "type": "quantitative", "axis": null}
          }
        }
      ]
    }
  ]
}
